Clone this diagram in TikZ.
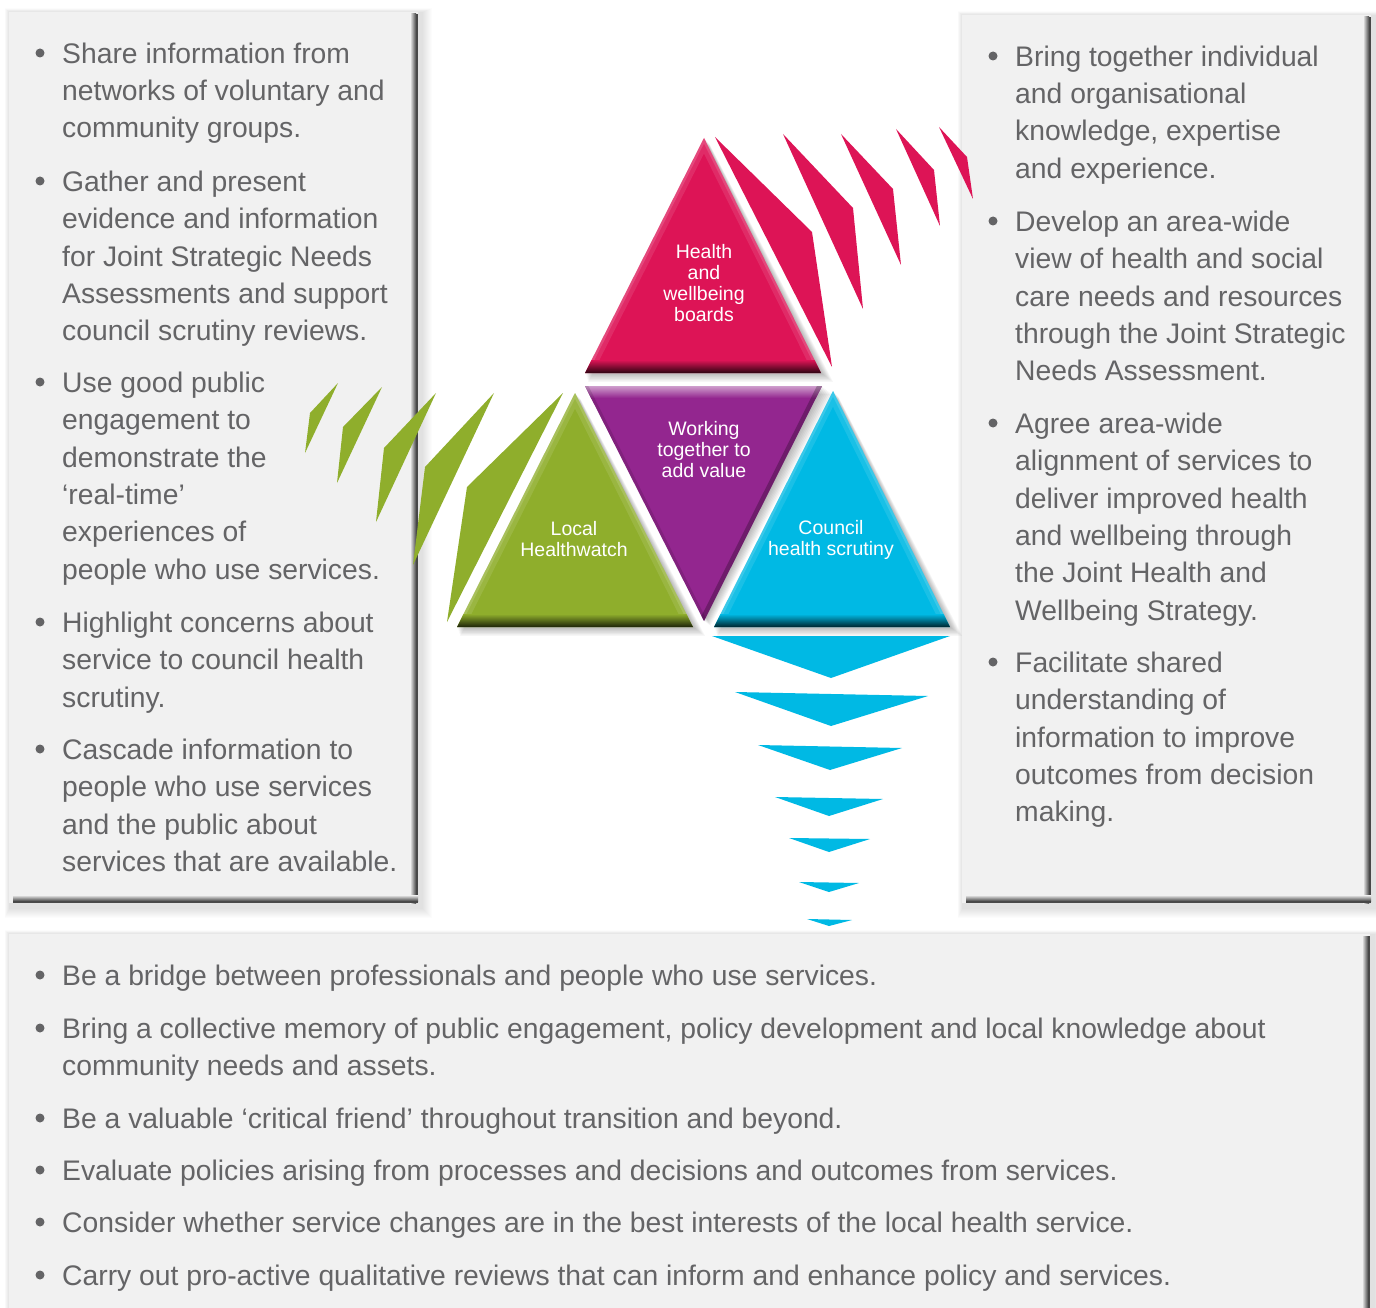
\documentclass[tikz,border=0pt]{standalone}
\usepackage{fontspec}
\setmainfont{Liberation Sans}
\usetikzlibrary{calc}
\definecolor{txt}{RGB}{100,100,102}
\definecolor{panelfill}{RGB}{241,241,241}
\definecolor{paneledge}{RGB}{72,72,72}
\definecolor{hpink}{RGB}{221,20,86}
\definecolor{hpurple}{RGB}{147,38,143}
\definecolor{hgreen}{RGB}{143,174,44}
\definecolor{hblue}{RGB}{0,185,228}
\tikzset{
  itemtext/.style={anchor=north west, inner sep=0pt, align=left, text=txt,
    font=\fontsize{28.3}{37.4}\selectfont},
  bulletdot/.style={circle, fill=txt, inner sep=0pt, minimum size=9pt},
  tritext/.style={text=white, align=center, inner sep=0pt,
    font=\fontsize{19.5}{21}\selectfont},
}
\newcommand\panelshadow[4]{%
  \foreach \k in {1,...,10}{\fill[black,opacity=0.012] (#1-5+0.5*\k,#2-4+0.4*\k) rectangle (#3+15-\k,#4+16-\k);}}
\newcommand\panelbody[4]{%
  \fill[panelfill] (#1,#2) rectangle (#3,#4);
  \shade[left color=panelfill, right color=paneledge] (#3-8,#2+2) rectangle (#3-2,#4);
  \fill[paneledge] (#3-2,#2+2) rectangle (#3,#4);}
\newcommand\panelbottom[4]{%
  \shade[top color=panelfill, bottom color=paneledge] (#1+4,#4-8) rectangle (#3,#4-2);
  \fill[paneledge] (#1+4,#4-2) rectangle (#3,#4);}
\newcommand\uptri[4]{%
  \foreach \k in {1,...,8}{\fill[black,opacity=0.035] ($(#1)+(0.7*\k,0.8*\k)$) -- ($(#2)+(0.4*\k,1.1*\k)$) -- ($(#3)+(1.5*\k,1.1*\k)$) -- cycle;}
  \fill[#4] (#1) -- (#2) -- (#3) -- cycle;
  \begin{scope}
    \clip (#1) -- (#2) -- (#3) -- cycle;
    \draw[white, opacity=0.10, line width=14pt] (#2) -- (#1) -- (#3);
    \draw[white, opacity=0.14, line width=5pt] (#2) -- (#1) -- (#3);
    \shade[top color=#4, bottom color=#4!20!black] ($(#2)+(0,-13)$) rectangle (#3);
  \end{scope}}
\newcommand\bitem[4]{%
  \node[bulletdot] (#1b) at (#2-22,#3) {};
  \node[itemtext] (#1) at (#2,#3-12) {\rule{0pt}{22pt}#4};}
\begin{document}
\begin{tikzpicture}[x=1pt,y=-1pt]
\useasboundingbox (0,0) rectangle (1376,1308);
\fill[white] (0,0) rectangle (1376,1308);
\begin{scope}
\clip (0,0) rectangle (1376,1308);
% panels
\panelshadow{9}{12}{418}{903}
\panelshadow{962}{15}{1371}{903}
\panelshadow{9}{934}{1370}{1330}
\panelbody{9}{12}{418}{903}
\panelbottom{9}{12}{418}{903}
\panelbody{962}{15}{1371}{903}
\panelbottom{962}{15}{1371}{903}
\panelbody{9}{934}{1370}{1330}

% triangles
\coordinate (pA) at (704,138); \coordinate (pB) at (585,373); \coordinate (pC) at (821,373);
\coordinate (uA) at (585,386); \coordinate (uB) at (822,386); \coordinate (uC) at (704,621);
\coordinate (gA) at (575,393); \coordinate (gB) at (457,627); \coordinate (gC) at (693,627);
\coordinate (bA) at (833,391); \coordinate (bB) at (714,627); \coordinate (bC) at (950,627);

\uptri{pA}{pB}{pC}{hpink}
% purple inverted
\foreach \k in {1,...,8}{\fill[black,opacity=0.035] ($(uA)+(0.5*\k,1.0*\k)$) -- ($(uB)+(1.3*\k,1.0*\k)$) -- ($(uC)+(0.8*\k,0.6*\k)$) -- cycle;}
\fill[hpurple] (uA) -- (uB) -- (uC) -- cycle;
\begin{scope}
  \clip (uA) -- (uB) -- (uC) -- cycle;
  \shade[top color=hpurple!45!white, bottom color=hpurple] (uA) rectangle ($(uB)+(0,12)$);
  \draw[black, opacity=0.25, line width=9pt] (uB) -- (uC);
  \draw[black, opacity=0.12, line width=6pt] (uA) -- (uC);
\end{scope}
\uptri{gA}{gB}{gC}{hgreen}
\uptri{bA}{bB}{bC}{hblue}

% pink stripes
\fill[hpink] (715,137) -- (812,232) -- (832,367) -- cycle;
\fill[hpink] (783,134) -- (853,208) -- (863,309) -- cycle;
\fill[hpink] (841,134) -- (893,189) -- (901,265) -- cycle;
\fill[hpink] (896,129) -- (934,170) -- (940,226) -- cycle;
\fill[hpink] (939,127) -- (967,157) -- (973,199) -- cycle;
% green stripes
\fill[hgreen] (563,393) -- (467,487) -- (447,622) -- cycle;
\fill[hgreen] (494,393) -- (425,467) -- (413,565) -- cycle;
\fill[hgreen] (436,393) -- (384,448) -- (376,522) -- cycle;
\fill[hgreen] (382,387) -- (343,427) -- (337,483) -- cycle;
\fill[hgreen] (338,383) -- (310,413) -- (305,453) -- cycle;
% blue chevrons
\fill[hblue] (712,636) -- (950,636) -- (831,678) -- cycle;
\fill[hblue] (735,692) -- (928,696) -- (831,726) -- cycle;
\fill[hblue] (758,745) -- (902,748) -- (830,770) -- cycle;
\fill[hblue] (775,797) -- (883,799) -- (829,816) -- cycle;
\fill[hblue] (789,838) -- (870,839) -- (829,852) -- cycle;
\fill[hblue] (799,882) -- (859,883) -- (829,892) -- cycle;
\fill[hblue] (807,919) -- (852,920) -- (829,926) -- cycle;
\end{scope}

% triangle labels
\node[tritext] (hwb) at (704,283) {Health\\and\\wellbeing\\boards};
\node[tritext] (wtv) at (704,450) {Working\\together to\\add value};
\node[tritext] (lhw) at (574,539) {Local\\Healthwatch};
\node[tritext] (chs) at (831,540) {Council\\health scrutiny};

% left panel
\bitem{la}{62}{53}{Share information from\\networks of voluntary and\\community groups.}
\bitem{lb}{62}{181}{Gather and present\\evidence and information\\for Joint Strategic Needs\\Assessments and support\\council scrutiny reviews.}
\bitem{lc}{62}{382}{Use good public\\engagement to\\demonstrate the\\‘real-time’\\experiences of\\people who use services.}
\bitem{ld}{62}{622}{Highlight concerns about\\service to council health\\scrutiny.}
\bitem{le}{62}{749}{Cascade information to\\people who use services\\and the public about\\services that are available.}

% right panel
\bitem{ra}{1015}{56}{Bring together individual\\and organisational\\knowledge, expertise\\and experience.}
\bitem{rb}{1015}{221}{Develop an area-wide\\view of health and social\\care needs and resources\\through the Joint Strategic\\Needs Assessment.}
\bitem{rc}{1015}{423}{Agree area-wide\\alignment of services to\\deliver improved health\\and wellbeing through\\the Joint Health and\\Wellbeing Strategy.}
\bitem{rd}{1015}{662}{Facilitate shared\\understanding of\\information to improve\\outcomes from decision\\making.}

% bottom panel
\bitem{ba}{62}{975}{Be a bridge between professionals and people who use services.}
\bitem{bb}{62}{1028}{Bring a collective memory of public engagement, policy development and local knowledge about\\community needs and assets.}
\bitem{bc}{62}{1118}{Be a valuable ‘critical friend’ throughout transition and beyond.}
\bitem{bd}{62}{1170}{Evaluate policies arising from processes and decisions and outcomes from services.}
\bitem{be}{62}{1222}{Consider whether service changes are in the best interests of the local health service.}
\bitem{bf}{62}{1275}{Carry out pro-active qualitative reviews that can inform and enhance policy and services.}
\end{tikzpicture}
\end{document}
